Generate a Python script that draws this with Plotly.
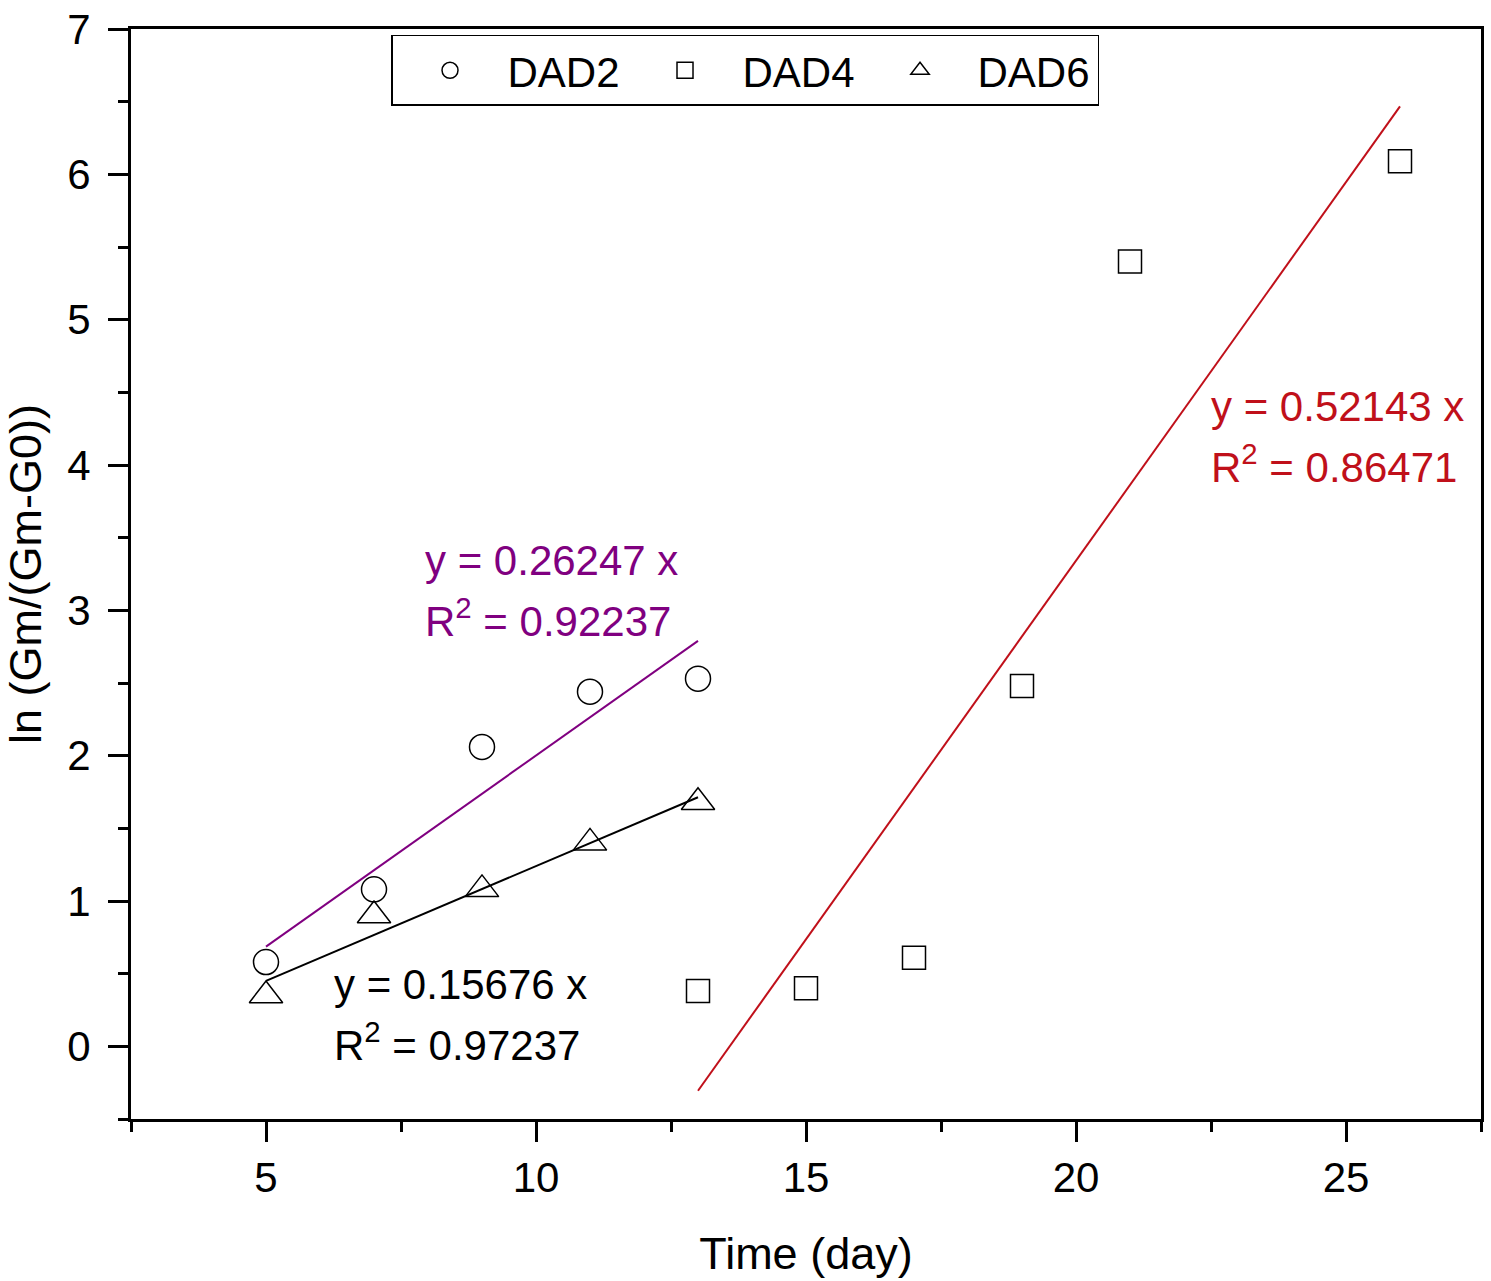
import numpy as np
import plotly.graph_objects as go

# ---- data ----
dad2_x = [5, 7, 9, 11, 13]
dad2_y = [0.58, 1.08, 2.06, 2.44, 2.53]
dad4_x = [13, 15, 17, 19, 21, 26]
dad4_y = [0.38, 0.40, 0.61, 2.48, 5.40, 6.09]
dad6_x = [5, 7, 9, 11, 13]
dad6_y = [0.35, 0.90, 1.08, 1.40, 1.68]

eq_dad2 = ["y = 0.26247 x", "R<sup>2</sup> = 0.92237"]
eq_dad4 = ["y = 0.52143 x", "R<sup>2</sup> = 0.86471"]
eq_dad6 = ["y = 0.15676 x", "R<sup>2</sup> = 0.97237"]

FONT = "Liberation Sans, Arial, sans-serif"
PURPLE = "#800080"
RED = "#C0101A"

fig = go.Figure()

def fit_line(xs, ys, color):
    k, b = np.polyfit(xs, ys, 1)
    xx = np.array([min(xs), max(xs)], dtype=float)
    fig.add_trace(go.Scatter(x=xx, y=k * xx + b, mode="lines",
                             line=dict(color=color, width=2), showlegend=False,
                             hoverinfo="skip"))

fit_line(dad2_x, dad2_y, PURPLE)
fit_line(dad4_x, dad4_y, RED)
fit_line(dad6_x, dad6_y, "black")

mk = dict(color="black", width=1.5)
fig.add_trace(go.Scatter(x=dad2_x, y=dad2_y, mode="markers", name="DAD2",
                         marker=dict(symbol="circle-open", size=25, color="black", line=mk)))
fig.add_trace(go.Scatter(x=dad4_x, y=dad4_y, mode="markers", name="DAD4",
                         marker=dict(symbol="square-open", size=23, color="black", line=mk)))
fig.add_trace(go.Scatter(x=dad6_x, y=dad6_y, mode="markers", name="DAD6",
                         marker=dict(symbol="triangle-up-open", size=29, color="black", line=mk)))

def eq(xpos, ypos, lines, color):
    dy = 0.4
    for i, t in enumerate(lines):
        fig.add_annotation(x=xpos, y=ypos - i * dy, xref="x", yref="y", text=t,
                           showarrow=False, xanchor="left", yanchor="middle",
                           font=dict(family=FONT, size=42, color=color))

eq(7.9, 3.345, eq_dad2, PURPLE)
eq(6.22, 0.427, eq_dad6, "black")
eq(22.46, 4.405, eq_dad4, RED)

axis_common = dict(showline=True, linewidth=3, linecolor="black", mirror=True,
                   ticks="outside", ticklen=20, tickwidth=3, tickcolor="black",
                   showgrid=False, zeroline=False,
                   ticklabeloverflow="allow",
                   tickfont=dict(family=FONT, size=42, color="black"))

fig.update_xaxes(range=[2.5, 27.5], tick0=0, dtick=5, automargin=False,
                 minor=dict(dtick=2.5, tick0=0, ticks="outside", ticklen=10, tickwidth=3,
                            tickcolor="black", showgrid=False),
                 title=dict(text="Time (day)", font=dict(family=FONT, size=45, color="black"),
                            standoff=38),
                 **axis_common)
fig.update_yaxes(range=[-0.5, 7], tick0=0, dtick=1, automargin=True,
                 minor=dict(dtick=0.5, tick0=0, ticks="outside", ticklen=10, tickwidth=3,
                            tickcolor="black", showgrid=False),
                 ticklabelstandoff=9,
                 title=dict(text="ln (Gm/(Gm-G0))", font=dict(family=FONT, size=45, color="black"),
                            standoff=14),
                 **axis_common)

fig.update_layout(
    width=1491, height=1281,
    margin=dict(l=131, r=10, t=29, b=162, autoexpand=False),
    plot_bgcolor="white", paper_bgcolor="white",
    font=dict(family=FONT, size=42, color="black"),
    legend=dict(orientation="h", x=0.1926, y=0.9945, xanchor="left", yanchor="top",
                bordercolor="black", borderwidth=1.5, bgcolor="white",
                font=dict(family=FONT, size=42, color="black"),
                itemwidth=105, entrywidth=115, tracegroupgap=0),
)

fig.write_html("out.html", config={"displayModeBar": False},
               post_script="document.body.style.margin='0';")
